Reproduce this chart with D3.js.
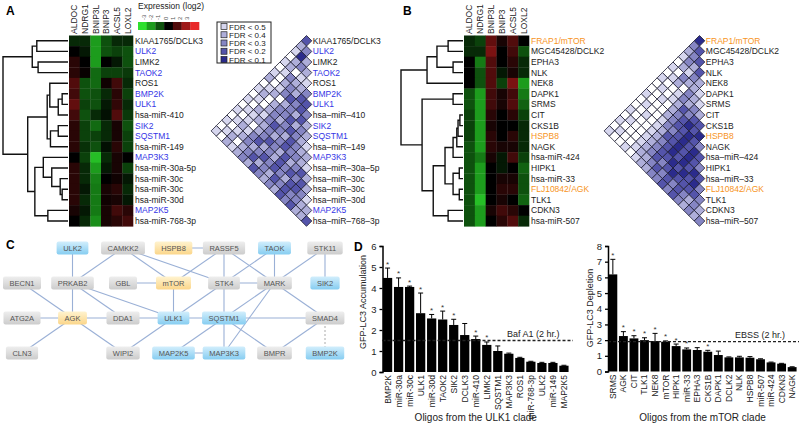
<!DOCTYPE html>
<html><head><meta charset="utf-8">
<script src="https://cdn.jsdelivr.net/npm/d3@7"></script>
<style>
body{margin:0;background:#fff}
text{font-family:"Liberation Sans",Arial,sans-serif}
</style>
</head><body><div id="vis"></div>
<script>
// ---- data ----
const cols = ['ALDOC','NDRG1','BNIP3L','BNIP3','ACSL5','LOXL2']

const rowsA = ['KIAA1765/DCLK3','ULK2','LIMK2','TAOK2','ROS1','BMP2K','ULK1','hsa-miR-410','SIK2','SQSTM1',
  'hsa-miR-149','MAP3K3','hsa-miR-30a-5p','hsa-miR-30c','hsa-miR-30c','hsa-miR-30d','MAP2K5','hsa-miR-768-3p']
const hiA = ['ULK2','TAOK2','BMP2K','ULK1','SIK2','SQSTM1','MAP3K3','MAP2K5']
const heatA = [
  [-0.5,-0.5,-2,-1,-0.5,-0.5],[0,-0.3,-2,-1,-0.8,-1],[0.5,0,-2,0,-0.3,-1],[0.5,0.1,-1.3,-0.8,-0.8,-0.7],
  [1,-1,-1.3,0.2,0.8,-0.5],[0.8,-1,-1,-0.5,0.5,-0.8],[1.2,-0.8,-1,-0.3,0.6,-0.5],[0.8,-1,-0.5,-0.2,1,-0.7],
  [0.5,-0.8,-1.3,-0.5,0.3,-1],[0.5,-0.8,-0.8,-0.5,0.3,-0.8],[0.5,-0.6,-1,-0.2,0.5,-0.8],[0,-0.8,-2.5,-0.5,0.3,0],
  [0.5,-0.5,-2,-0.3,0.3,-0.8],[0.5,-0.5,-1.6,0,0.2,-0.3],[0.5,-0.3,-1.5,0.3,0.5,-0.5],[0.5,-0.5,-1.5,0.2,0.3,-0.3],
  [0.3,-0.3,-1.5,0.3,0.8,0.5],[0,-0.5,-1.8,0.3,0.5,0.8]]
// dendrogram: [height, left, right], leaves are row indices
const treeA = [1.0,
  [0.55, [0.48, 0, 1], [0.46, 2, 3]],
  [0.62,
    [0.32, [0.28, 4, [0.15, [0.09, 5, 6], 7]], [0.27, [0.15, 8, 9], 10]],
    [0.51, [0.38, 11, [0.25, 12, [0.12, 13, [0.09, 14, 15]]]], [0.31, 16, 17]]]]
// FDR level per pair (0 = none, 1 = <0.5 ... 5 = <0.1), lower triangle rows
const fdrA = ['4','23','152','0232','12011','013223','1023244','20134343','012023242','1202334232',
  '01023234321','102134324322','0112232343321','10102343242342','012134232434342','1012323434324431',
  '01202342324343322','102123243232434224']

const rowsB = ['FRAP1/mTOR','MGC45428/DCLK2','EPHA3','NLK','NEK8','DAPK1','SRMS','CIT','CKS1B','HSPB8','NAGK',
  'hsa-miR-424','HIPK1','hsa-miR-33','FLJ10842/AGK','TLK1','CDKN3','hsa-miR-507']
const hiB = ['FRAP1/mTOR','HSPB8','FLJ10842/AGK']
const heatB = [
  [-0.5,-0.8,1.2,0.3,1,0],[-0.5,-0.5,1.5,0,0.8,-1],[0,-1.5,1,0,0.5,-0.5],[0,-1,1,-0.3,0.3,-0.5],
  [0,-1,1,-0.8,1.5,-2],[-1,-2,0.8,0.3,0.8,-1.5],[-1,-2,0.8,0.3,1,-1.2],[-0.8,-2,0.5,0,0.5,-0.8],
  [-0.8,-2,0.3,0,0,-0.5],[-0.8,-2,0.5,0,0.5,-0.5],[-1,-2,0.5,0.3,0.3,-0.5],[-1,-1.5,0.3,-0.3,0.8,-0.8],
  [-1,-2,0,-0.3,0,-1.2],[-1,-2,0,0.3,0.3,-1],[-1,-2,0,0.5,0.5,-1],[-1,-2.5,0,0.3,0,-1.2],
  [-1,-2,0.3,0.8,0.5,0],[-1,-2,0,0.5,1,-0.5]]
const treeB = [1.0,
  [0.58, [0.42, [0.24, 0, 1], [0.16, 2, 3]], 4],
  [0.66, [0.16, 5, 6],
    [0.48, [0.29, [0.16, [0.1, [0.08, [0.05, 7, 8], 9], 10], 11], [0.16, [0.06, 12, 13], [0.06, 14, 15]]],
      [0.24, 16, 17]]]]
const fdrB = ['5','34','234','1324','02132','103221','0120321','10013232','010124344','0010234545',
  '10002344543','010013345454','0010124454543','10001234545454','010012344545453','1000123434544443',
  '01001223434343232','100101223343432323']

const fdrLabels = ['FDR < 0.5','FDR < 0.4','FDR < 0.3','FDR < 0.2','FDR < 0.1']
const exprTicks = [-3,-2,-1,0,1,2,3]

// network
const nodes = [
  ['ULK2',1,0,'b'],['CAMKK2',2,0,'g'],['HSPB8',3,0,'y'],['RASSF5',4,0,'g'],['TAOK',5,0,'b'],['STK11',6,0,'g'],
  ['BECN1',0,1,'g'],['PRKAB2',1,1,'g'],['GBL',2,1,'g'],['mTOR',3,1,'y'],['STK4',4,1,'g'],['MARK',5,1,'g'],['SIK2',6,1,'b'],
  ['ATG2A',0,2,'g'],['AGK',1,2,'y'],['DDA1',2,2,'g'],['ULK1',3,2,'b'],['SQSTM1',4,2,'b'],['SMAD4',6,2,'g'],
  ['CLN3',0,3,'g'],['WIPI2',2,3,'g'],['MAP2K5',3,3,'b'],['MAP3K3',4,3,'b'],['BMPR',5,3,'g'],['BMP2K',6,3,'b']]
const edges = [
  ['ULK2','PRKAB2'],['PRKAB2','AGK'],['PRKAB2','CAMKK2'],['PRKAB2','DDA1'],['PRKAB2','ULK1'],
  ['BECN1','AGK'],['ATG2A','AGK'],['CLN3','AGK'],['AGK','DDA1'],['AGK','WIPI2'],
  ['CAMKK2','mTOR'],['CAMKK2','STK4'],['GBL','mTOR'],['HSPB8','RASSF5'],['mTOR','ULK1'],['mTOR','RASSF5'],
  ['DDA1','ULK1'],['ULK1','SQSTM1'],['ULK1','STK4'],['WIPI2','ULK1'],['MAP2K5','SQSTM1'],['MAP2K5','MAP3K3'],
  ['RASSF5','STK4'],['STK4','SQSTM1'],['SQSTM1','MAP3K3'],['RASSF5','MARK'],['TAOK','STK4'],['TAOK','MARK'],
  ['STK4','MARK'],['MARK','STK11'],['STK11','SIK2'],['MARK','SQSTM1'],['MARK','MAP3K3'],['MARK','SMAD4'],
  ['SQSTM1','SMAD4'],['SQSTM1','BMPR'],['SMAD4','BMPR']]
const dashedEdges = [['SMAD4','BMP2K']]

// bar charts
const namesL = ['BMP2K','miR-30a','miR-30c','ULK1','miR-30d','TAOK2','SIK2','DCLK3','miR-410','LIMK2','SQSTM1',
  'MAP3K3','ROS1','miR-768-3p','ULK2','miR-149','MAP2K5']
const valsL = [4.48,4.05,4.05,2.8,2.55,2.5,2.24,1.76,1.57,1.29,1.0,0.87,0.67,0.49,0.43,0.43,0.3]
const errL = [0.47,0.43,0.04,0.96,0.19,0.4,0.27,0.55,0.14,0.14,0.24,0.03,0.03,0.02,0.03,0.03,0.02]
const sigL = [1,1,1,1,1,1,1,0,1,1,0,0,0,0,0,0,0]
const namesR = ['SRMS','AGK','CIT','TLK1','NEK8','mTOR','HIPK1','miR-33','EPHA3','CKS1B','DAPK1','DCLK2','NLK',
  'HSPB8','miR-507','miR-424','CDKN3','NAGK']
const valsR = [6.19,2.26,2.11,2.0,1.94,1.9,1.62,1.41,1.37,1.26,1.05,0.9,0.9,0.88,0.78,0.58,0.5,0.28]
const errR = [0.96,0.28,0.17,0.15,0.49,0.05,0.13,0.09,0.15,0.09,0.25,0.03,0.07,0.07,0.03,0.02,0.02,0.02]
const sigR = [1,1,1,1,1,1,1,1,0,1,0,0,0,0,0,0,0,0]

// ---- drawing ----
const W = 800, H = 428
const svg = d3.select('#vis').append('svg').attr('width', W).attr('height', H)

const heatColor = d3.scaleLinear().domain([-3,-1.5,0,1.5,3])
  .range(['#2ee02e','#157a15','#000000','#7a1212','#e82a2a']).clamp(true)
const fdrColors = ['#ffffff','#d6d6ee','#aeaed9','#8585c3','#5454aa','#2b2b8c']
const blue = '#3535e6', orange = '#f7941d'

const yRow = d3.scaleBand().domain(d3.range(18)).range([35.5, 226.3])
const yc = i => yRow(i) + yRow.bandwidth() / 2
const d = yRow.bandwidth() / 2

function panelLetter(t, x, y) {
  svg.append('text').attr('x', x).attr('y', y).text(t)
    .style('font-size', '12px').style('font-weight', 'bold')
}

function drawTree(g, node, xs) {
  if (typeof node === 'number') return { x: xs(0), y: yc(node) }
  const a = drawTree(g, node[1], xs), b = drawTree(g, node[2], xs)
  const x = xs(node[0])
  g.append('path').attr('d', 'M' + a.x + ',' + a.y + 'H' + x + 'V' + b.y + 'H' + b.x)
  return { x: x, y: (a.y + b.y) / 2 }
}

function heatPanel(x0, x1, rows, heat, tree, treeX0, hi, hiColor, triX, fdr) {
  const xc = d3.scaleBand().domain(cols).range([x0, x1])
  const g = svg.append('g')
  heat.forEach((r, i) => {
    g.selectAll(null).data(r).enter().append('rect')
      .attr('x', (v, j) => xc(cols[j])).attr('y', yRow(i))
      .attr('width', xc.bandwidth() + 0.3).attr('height', yRow.bandwidth() + 0.3)
      .attr('fill', v => heatColor(v))
  })
  g.selectAll('.cl').data(cols).enter().append('text')
    .attr('transform', c => 'translate(' + (xc(c) + xc.bandwidth() / 2 + 3) + ',34)rotate(-90)')
    .text(c => c).style('font-size', '8.5px').attr('fill', '#222')
  g.selectAll('.rl').data(rows).enter().append('text')
    .attr('x', x1 + 2).attr('y', (r, i) => yc(i) + 3)
    .text(r => r).style('font-size', '8.5px')
    .attr('fill', r => hi.includes(r) ? hiColor : '#222')

  const tg = svg.append('g').attr('fill', 'none').attr('stroke', '#111').attr('stroke-width', 1.4)
  drawTree(tg, tree, d3.scaleLinear().domain([0, 1]).range([x0 - 1, treeX0]))

  // correlation triangle
  const cells = []
  fdr.forEach((row, i) => row.split('').forEach((v, j) => cells.push({ i: i, j: j, v: +v })))
  svg.append('g').selectAll('path').data(cells).enter().append('path')
    .attr('d', c => {
      const cy = (yc(c.i) + yc(c.j)) / 2, cx = triX - (c.i - c.j) * d
      return 'M' + cx + ',' + (cy - d) + 'L' + (cx + d) + ',' + cy + 'L' + cx + ',' + (cy + d) + 'L' + (cx - d) + ',' + cy + 'Z'
    })
    .attr('fill', c => fdrColors[c.v]).attr('stroke', '#1c1c30').attr('stroke-width', 0.8)
  svg.append('g').selectAll('text').data(rows).enter().append('text')
    .attr('x', triX + d + 1).attr('y', (r, i) => yc(i) + 3)
    .text(r => r.startsWith('hsa') ? r.replace(/-/g, '\u2013') : r)
    .style('font-size', '8.5px')
    .attr('fill', r => hi.includes(r) ? hiColor : '#222')
}

panelLetter('A', 6, 15)
panelLetter('B', 403, 15)
heatPanel(69, 133, rowsA, heatA, treeA, 3, hiA, blue, 306.5, fdrA)
heatPanel(464, 529, rowsB, heatB, treeB, 401, hiB, orange, 699.5, fdrB)

// expression legend
svg.append('text').attr('x', 138).attr('y', 9).text('Expression (log2)').style('font-size', '8.5px').attr('fill', '#222')
const ex = d3.scaleBand().domain(exprTicks).range([138, 199])
svg.selectAll('.lg').data(exprTicks).enter().append('rect')
  .attr('x', v => ex(v)).attr('y', 22).attr('width', ex.bandwidth() + 0.3).attr('height', 8)
  .attr('fill', v => heatColor(v))
const exT = d3.scaleLinear().domain([-3, 3]).range([144, 187])
svg.selectAll('.lt').data(exprTicks).enter().append('text')
  .attr('transform', v => 'translate(' + (exT(v) + 2) + ',20)rotate(-90)')
  .text(v => v).style('font-size', '6px').attr('fill', '#555')

// FDR legend
const fl = svg.append('g')
fl.append('rect').attr('x', 217).attr('y', 22).attr('width', 54).attr('height', 41)
  .attr('fill', '#fff').attr('stroke', '#222').attr('stroke-width', 1)
const fy = d3.scalePoint().domain(fdrLabels).range([26.5, 59.5])
fl.selectAll('rect.s').data(fdrLabels).enter().append('rect')
  .attr('x', 221).attr('y', v => fy(v) - 3).attr('width', 6).attr('height', 6)
  .attr('fill', (v, i) => fdrColors[i + 1]).attr('stroke', '#222').attr('stroke-width', 0.7)
fl.selectAll('text').data(fdrLabels).enter().append('text')
  .attr('x', 229).attr('y', v => fy(v) + 3).text(v => v).style('font-size', '8px').attr('fill', '#222')

// ---- panel C network ----
panelLetter('C', 6, 249)
const nx = d3.scaleLinear().domain([0, 6]).range([22, 325])
const ny = d3.scaleLinear().domain([0, 3]).range([248, 353])
const pos = {}
nodes.forEach(n => { pos[n[0]] = { x: nx(n[1]), y: ny(n[2]), t: n[3] } })
const defs = svg.append('defs')
const grads = { g: ['#eeeeee', '#cccccc'], b: ['#d2eefc', '#86cdf1'], y: ['#fff3cf', '#fbd68a'] }
Object.keys(grads).forEach(k => {
  const lg = defs.append('linearGradient').attr('id', 'gr' + k).attr('x1', 0).attr('x2', 0).attr('y1', 0).attr('y2', 1)
  lg.append('stop').attr('offset', '0%').attr('stop-color', grads[k][0])
  lg.append('stop').attr('offset', '100%').attr('stop-color', grads[k][1])
})
const net = svg.append('g')
net.selectAll('line.e').data(edges).enter().append('line')
  .attr('x1', e => pos[e[0]].x).attr('y1', e => pos[e[0]].y)
  .attr('x2', e => pos[e[1]].x).attr('y2', e => pos[e[1]].y)
  .attr('stroke', '#9ab0d6').attr('stroke-width', 1.1)
net.selectAll('line.d').data(dashedEdges).enter().append('line')
  .attr('x1', e => pos[e[0]].x).attr('y1', e => pos[e[0]].y)
  .attr('x2', e => pos[e[1]].x).attr('y2', e => pos[e[1]].y)
  .attr('stroke', '#aaa').attr('stroke-width', 1).attr('stroke-dasharray', '2,2')
const ng = net.selectAll('g.n').data(nodes).enter().append('g')
  .attr('transform', n => 'translate(' + pos[n[0]].x + ',' + pos[n[0]].y + ')')
ng.append('rect').attr('class', 'box').attr('y', -6.5).attr('height', 13).attr('rx', 2)
  .attr('fill', n => 'url(#gr' + n[3] + ')')
ng.append('text').attr('text-anchor', 'middle').attr('y', 2.6).text(n => n[0])
  .style('font-size', '7.5px').attr('fill', '#555')
ng.each(function () {
  const tw = d3.select(this).select('text').node().getComputedTextLength()
  const w = Math.max(26, tw + 13)
  d3.select(this).select('rect').attr('x', -w / 2).attr('width', w)
})

// ---- panel D bar charts ----
panelLetter('D', 354, 251)
function barChart(names, vals, errs, sig, opt) {
  const g = svg.append('g')
  const x = d3.scaleBand().domain(names).range([opt.x0, opt.x1]).paddingInner(0.16).paddingOuter(0.04)
  const y = d3.scaleLinear().domain([0, opt.max]).range([opt.y0, opt.y1])
  g.selectAll('rect').data(vals).enter().append('rect')
    .attr('x', (v, i) => x(names[i])).attr('y', v => y(v))
    .attr('width', x.bandwidth()).attr('height', v => y(0) - y(v)).attr('fill', '#000')
  const eg = g.append('g').attr('stroke', '#000').attr('stroke-width', 1)
  vals.forEach((v, i) => {
    const cx = x(names[i]) + x.bandwidth() / 2
    eg.append('line').attr('x1', cx).attr('x2', cx).attr('y1', y(v)).attr('y2', y(v + errs[i]))
    eg.append('line').attr('x1', cx - 2.5).attr('x2', cx + 2.5).attr('y1', y(v + errs[i])).attr('y2', y(v + errs[i]))
    if (sig[i]) g.append('text').attr('x', cx).attr('y', y(v + errs[i]) - 1.5).attr('text-anchor', 'middle')
      .text('*').style('font-size', '8px').attr('fill', '#333')
  })
  g.append('line').attr('x1', opt.x0).attr('x2', opt.lineEnd).attr('y1', y(opt.ref)).attr('y2', y(opt.ref))
    .attr('stroke', '#222').attr('stroke-width', 1.3).attr('stroke-dasharray', '3,2')
  g.append('text').attr('x', opt.refX).attr('y', y(opt.ref) - 4).text(opt.refLabel)
    .style('font-size', '9px').attr('fill', '#222')
  const ax = g.append('g').attr('transform', 'translate(' + opt.x0 + ',0)')
    .call(d3.axisLeft(y).ticks(opt.max).tickSize(3).tickFormat(d3.format('d')))
  ax.select('.domain').attr('stroke-width', 1.5)
  ax.selectAll('.tick line').attr('stroke-width', 1.3)
  ax.selectAll('text').style('font-size', '9.5px').attr('fill', '#222')
  g.selectAll('.xl').data(names).enter().append('text')
    .attr('transform', n => 'translate(' + (x(n) + x.bandwidth() / 2 + 3) + ',' + (opt.y0 + 3) + ')rotate(-90)')
    .attr('text-anchor', 'end').text(n => n).style('font-size', '8.5px').attr('fill', '#222')
  g.append('text').attr('transform', 'translate(' + opt.titleX + ',' + opt.titleY + ')rotate(-90)')
    .attr('text-anchor', 'middle').text(opt.yTitle).style('font-size', '9px').attr('fill', '#222')
  g.append('text').attr('x', (opt.x0 + opt.x1) / 2).attr('y', 421).attr('text-anchor', 'middle')
    .text(opt.xTitle).style('font-size', '10px').attr('fill', '#222')
}
barChart(namesL, valsL, errL, sigL, {
  x0: 382.5, x1: 569, y0: 372, y1: 246, max: 6, ref: 1.5, lineEnd: 573, refX: 507,
  refLabel: 'Baf A1 (2 hr.)', yTitle: 'GFP-LC3 Accumulation', titleX: 366, titleY: 302,
  xTitle: 'Oligos from the ULK1 clade'
})
barChart(namesR, valsR, errR, sigR, {
  x0: 608, x1: 797, y0: 371.5, y1: 246, max: 8, ref: 1.9, lineEnd: 799, refX: 735,
  refLabel: 'EBSS (2 hr.)', yTitle: 'GFP-LC3 Depletion', titleX: 593, titleY: 308,
  xTitle: 'Oligos from the mTOR clade'
})
</script>
</body></html>
